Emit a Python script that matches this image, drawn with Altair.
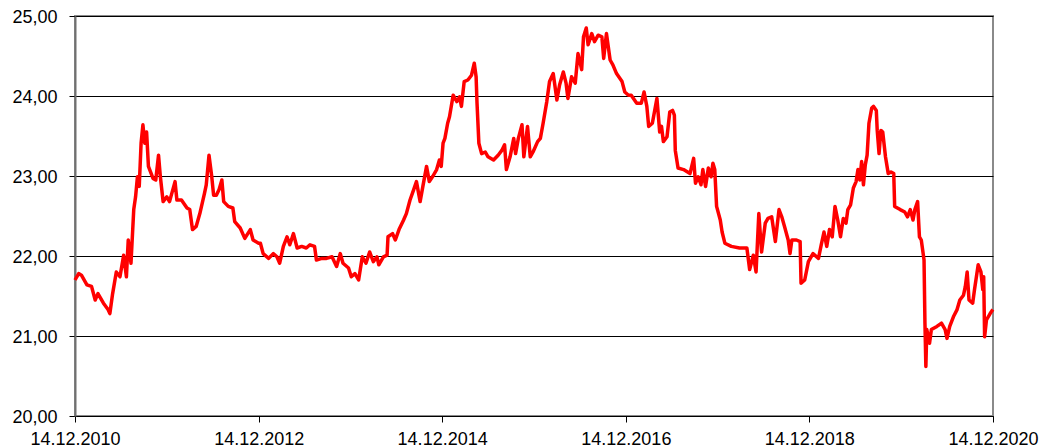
import altair as alt
import pandas as pd

# time in years after 14.12.2010
t_years = [
    0.00, 0.04, 0.07, 0.13, 0.18, 0.22, 0.25, 0.31, 0.36, 0.38, 0.41, 0.45, 0.49, 0.53, 0.56, 0.58,
    0.61, 0.64, 0.66, 0.68, 0.70, 0.72, 0.74, 0.76, 0.78, 0.80, 0.85, 0.88, 0.91, 0.93, 0.96, 1.00,
    1.03, 1.09, 1.11, 1.16, 1.22, 1.25, 1.28, 1.32, 1.36, 1.41, 1.43, 1.46, 1.49, 1.51, 1.54, 1.57,
    1.60, 1.62, 1.67, 1.72, 1.74, 1.80, 1.85, 1.91, 1.94, 2.00,
    2.02, 2.05, 2.11, 2.16, 2.20, 2.23, 2.27, 2.31, 2.34, 2.38, 2.42, 2.47, 2.52, 2.56, 2.61, 2.63,
    2.69, 2.74, 2.80, 2.85, 2.89, 2.92, 2.98, 3.01, 3.05, 3.09, 3.13, 3.17, 3.21, 3.25, 3.29, 3.31,
    3.36, 3.40, 3.41, 3.46, 3.49, 3.53, 3.58, 3.61, 3.65, 3.69, 3.72, 3.76, 3.79, 3.83, 3.86, 3.90,
    3.94, 3.97, 3.99,
    4.01, 4.03, 4.06, 4.08, 4.12, 4.16, 4.19, 4.21, 4.24, 4.28, 4.32, 4.35, 4.37, 4.38, 4.40, 4.43,
    4.47, 4.50, 4.56, 4.61, 4.65, 4.68, 4.70, 4.74, 4.78, 4.80, 4.83, 4.87, 4.89, 4.93, 4.96, 4.99,
    5.04, 5.07, 5.10, 5.14, 5.17, 5.21, 5.25, 5.28, 5.32, 5.35, 5.37, 5.41, 5.45, 5.48, 5.52, 5.54,
    5.57, 5.59, 5.63, 5.66, 5.70, 5.74, 5.76, 5.79, 5.83, 5.86, 5.90, 5.96, 5.99, 6.03,
    6.06, 6.12, 6.17, 6.20, 6.23, 6.25, 6.29, 6.34, 6.37, 6.39, 6.41, 6.45, 6.48, 6.51, 6.53, 6.54,
    6.57, 6.63, 6.70, 6.74, 6.76, 6.79, 6.82, 6.84, 6.87, 6.90, 6.93, 6.95, 6.97, 6.99, 7.03, 7.05,
    7.08, 7.15, 7.24, 7.32, 7.35, 7.39, 7.42, 7.45, 7.48, 7.52, 7.55, 7.59, 7.63, 7.67, 7.70, 7.73,
    7.77, 7.79, 7.81, 7.86, 7.90, 7.91, 7.95, 7.99,
    8.04, 8.10, 8.13, 8.16, 8.19, 8.22, 8.25, 8.28, 8.31, 8.34, 8.37, 8.40, 8.42, 8.45, 8.48, 8.51,
    8.53, 8.55, 8.57, 8.59, 8.61, 8.63, 8.65, 8.68, 8.70, 8.73, 8.74, 8.76, 8.78, 8.80, 8.83, 8.86,
    8.89, 8.92, 8.93, 8.99, 9.04, 9.07, 9.10, 9.13, 9.15, 9.18, 9.20, 9.22, 9.25, 9.26, 9.27, 9.28,
    9.31, 9.33, 9.39, 9.44, 9.48, 9.50, 9.53, 9.57, 9.61, 9.64, 9.68, 9.70, 9.72, 9.74, 9.78, 9.80,
    9.84, 9.87, 9.89, 9.90, 9.91, 9.93, 9.97, 10.00,
]

values = [
    21.70, 21.78, 21.76, 21.64, 21.62, 21.45, 21.53, 21.41, 21.33, 21.28, 21.53, 21.80, 21.74, 22.01, 21.74, 22.20,
    21.91, 22.58, 22.74, 22.99, 22.87, 23.41, 23.64, 23.41, 23.55, 23.12, 22.97, 22.95, 23.26, 22.99, 22.68, 22.74,
    22.68, 22.93, 22.70, 22.70, 22.60, 22.58, 22.33, 22.37, 22.53, 22.78, 22.89, 23.26, 22.99, 22.76, 22.76, 22.83,
    22.95, 22.68, 22.62, 22.60, 22.43, 22.35, 22.22, 22.33, 22.20, 22.16,
    22.16, 22.03, 21.97, 22.03, 21.99, 21.91, 22.12, 22.24, 22.14, 22.28, 22.10, 22.12, 22.10, 22.14, 22.12, 21.95,
    21.97, 21.97, 21.99, 21.87, 22.03, 21.91, 21.85, 21.74, 21.78, 21.70, 21.99, 21.91, 22.05, 21.93, 21.99, 21.89,
    21.99, 22.01, 22.24, 22.28, 22.20, 22.33, 22.45, 22.53, 22.70, 22.83, 22.93, 22.68, 22.87, 23.12, 22.93, 23.00,
    23.08, 23.20, 23.12,
    23.41, 23.47, 23.66, 23.74, 24.01, 23.93, 23.99, 23.87, 24.18, 24.20, 24.26, 24.41, 24.24, 23.91, 23.41, 23.28,
    23.30, 23.24, 23.20, 23.26, 23.32, 23.39, 23.08, 23.24, 23.47, 23.28, 23.47, 23.64, 23.24, 23.62, 23.24, 23.30,
    23.43, 23.47, 23.66, 23.93, 24.18, 24.28, 23.95, 24.14, 24.30, 24.16, 23.97, 24.24, 24.16, 24.53, 24.33, 24.74,
    24.85, 24.64, 24.78, 24.68, 24.76, 24.74, 24.47, 24.78, 24.45, 24.39, 24.28, 24.18, 24.05, 24.01,
    24.01, 23.91, 23.91, 24.05, 23.87, 23.62, 23.66, 23.97, 23.55, 23.62, 23.43, 23.49, 23.80, 23.82, 23.76, 23.32,
    23.10, 23.08, 23.03, 23.22, 22.91, 22.99, 22.89, 23.08, 22.87, 23.10, 22.99, 23.16, 23.08, 22.62, 22.45, 22.30,
    22.16, 22.12, 22.10, 22.10, 21.83, 22.01, 21.80, 22.53, 22.05, 22.41, 22.47, 22.49, 22.18, 22.58, 22.49, 22.37,
    22.20, 22.03, 22.20, 22.20, 22.18, 21.66, 21.70, 21.93,
    22.03, 21.97, 22.14, 22.30, 22.12, 22.33, 22.24, 22.62, 22.45, 22.24, 22.47, 22.41, 22.58, 22.64, 22.85, 22.93,
    23.08, 22.95, 23.18, 22.89, 23.14, 23.26, 23.66, 23.85, 23.87, 23.82, 23.57, 23.28, 23.57, 23.55, 23.24, 23.03,
    23.05, 23.03, 22.62, 22.58, 22.55, 22.49, 22.58, 22.45, 22.58, 22.68, 22.24, 22.20, 21.95, 21.16, 20.62, 21.08,
    20.91, 21.08, 21.12, 21.16, 21.08, 20.97, 21.12, 21.24, 21.33, 21.45, 21.51, 21.62, 21.80, 21.45, 21.41, 21.58,
    21.89, 21.80, 21.58, 21.74, 20.99, 21.20, 21.28, 21.33,
]

tick_dates = ["2010-12-14", "2012-12-14", "2014-12-14", "2016-12-14", "2018-12-14", "2020-12-14"]
y_ticks = [20, 21, 22, 23, 24, 25]

start = pd.Timestamp("2010-12-14")
df = pd.DataFrame({
    "date": [start + pd.to_timedelta(t * 365.25, unit="D") for t in t_years],
    "value": values,
})

tick_vals = [alt.DateTime(year=int(d[:4]), month=int(d[5:7]), date=int(d[8:10])) for d in tick_dates]

chart = alt.Chart(df).mark_line(color="#FF0000", strokeWidth=3.5, strokeJoin="round").encode(
    x=alt.X(
        "date:T",
        scale=alt.Scale(domain=[tick_vals[0], tick_vals[-1]]),
        axis=alt.Axis(
            title=None, values=tick_vals, grid=False,
            labelExpr="timeFormat(datum.value, '%d.%m.%Y')",
            tickSize=6, tickColor="#000000", domainColor="#000000", domainWidth=1,
            labelPadding=8, labelAngle=0, labelFlush=False, labelOverlap=False,
        ),
    ),
    y=alt.Y(
        "value:Q",
        scale=alt.Scale(domain=[20, 25], nice=False, zero=False),
        axis=alt.Axis(
            title=None, values=y_ticks, grid=True, gridColor="#000000", gridWidth=1,
            labelExpr="replace(format(datum.value, '.2f'), '.', ',')",
            tickSize=6, tickColor="#000000", domainColor="#707070", domainWidth=2,
            labelPadding=12, labelOffset=1.5,
        ),
    ),
).properties(
    width=918,
    height=400,
    autosize=alt.AutoSizeParams(type="none"),
    padding={"left": 67, "top": 8, "right": 50, "bottom": 32},
).configure_view(
    stroke="#8a8a8a", strokeWidth=2
).configure_axis(
    labelFont="Liberation Sans", labelFontSize=18, labelColor="#000000",
)

chart.save("out.html", embed_options={"renderer": "svg", "actions": False})
